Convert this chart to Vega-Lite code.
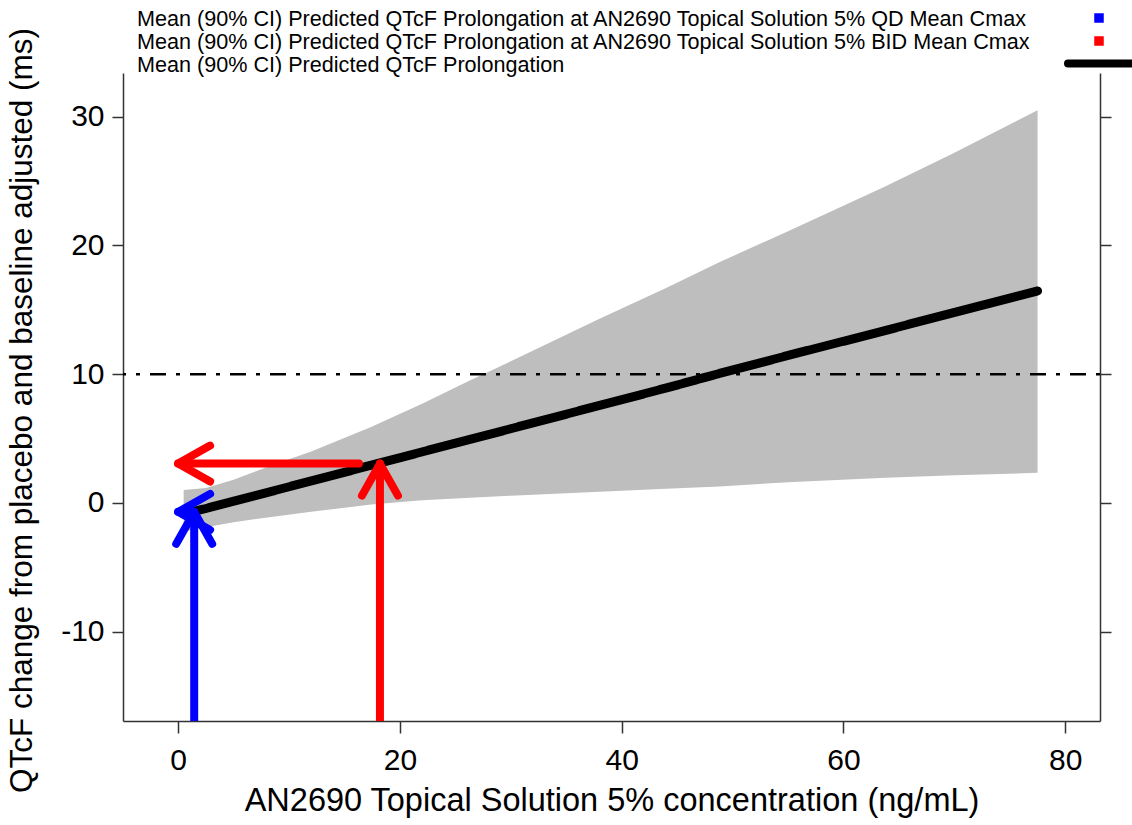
{
  "$schema": "https://vega.github.io/schema/vega-lite/v6.json",
  "width": 977,
  "height": 648,
  "autosize": {"type": "none"},
  "padding": {"left": 123, "top": 73, "right": 32, "bottom": 104},
  "background": "white",
  "config": {
    "view": {"stroke": null},
    "font": "Liberation Sans",
    "axis": {
      "grid": false,
      "domainColor": "#333333",
      "tickColor": "#333333",
      "domainWidth": 1.5,
      "tickWidth": 1.5,
      "labelColor": "#000000",
      "titleColor": "#000000",
      "labelFont": "Liberation Sans",
      "titleFont": "Liberation Sans",
      "titleFontWeight": "normal",
      "labelBound": false,
      "labelFlush": false,
      "labelOverlap": false,
      "labelExpr": "'' + datum.value"
    }
  },
  "title": {
    "text": [
      "Mean (90% CI) Predicted QTcF Prolongation at AN2690 Topical Solution 5% QD Mean Cmax",
      "Mean (90% CI) Predicted QTcF Prolongation at AN2690 Topical Solution 5% BID Mean Cmax",
      "Mean (90% CI) Predicted QTcF Prolongation"
    ],
    "anchor": "start",
    "frame": "group",
    "dx": 14,
    "offset": -64,
    "font": "Liberation Sans",
    "fontSize": 21.6,
    "fontWeight": "normal",
    "lineHeight": 23,
    "color": "#000000"
  },
  "datasets": {
    "band": [
      {"conc": 0.5, "lo": -2.25, "mean": -0.88, "hi": 1.0, "series": "Mean"},
      {"conc": 2.5, "lo": -1.9, "mean": -0.44, "hi": 1.15, "series": "Mean"},
      {"conc": 5, "lo": -1.5, "mean": 0.13, "hi": 1.8, "series": "Mean"},
      {"conc": 8.4, "lo": -1.1, "mean": 0.89, "hi": 2.9, "series": "Mean"},
      {"conc": 12, "lo": -0.7, "mean": 1.7, "hi": 4.0, "series": "Mean"},
      {"conc": 17.4, "lo": -0.12, "mean": 2.92, "hi": 5.9, "series": "Mean"},
      {"conc": 22, "lo": 0.2, "mean": 3.96, "hi": 7.7, "series": "Mean"},
      {"conc": 26.3, "lo": 0.39, "mean": 4.93, "hi": 9.5, "series": "Mean"},
      {"conc": 30, "lo": 0.56, "mean": 5.76, "hi": 11.0, "series": "Mean"},
      {"conc": 38, "lo": 0.87, "mean": 7.57, "hi": 14.3, "series": "Mean"},
      {"conc": 44, "lo": 1.1, "mean": 8.92, "hi": 16.7, "series": "Mean"},
      {"conc": 48.8, "lo": 1.27, "mean": 10.05, "hi": 18.7, "series": "Mean"},
      {"conc": 55, "lo": 1.6, "mean": 11.45, "hi": 21.1, "series": "Mean"},
      {"conc": 63.8, "lo": 1.95, "mean": 13.4, "hi": 24.6, "series": "Mean"},
      {"conc": 70, "lo": 2.15, "mean": 14.8, "hi": 27.2, "series": "Mean"},
      {"conc": 77.5, "lo": 2.33, "mean": 16.47, "hi": 30.5, "series": "Mean"}
    ],
    "arrows": [
      {"series": "QD", "x0": 1.45, "y0": -18, "x1": 1.45, "y1": -0.7, "dir": "up"},
      {"series": "QD", "x0": 1.45, "y0": -0.7, "x1": 0, "y1": -0.7, "dir": "left"},
      {"series": "BID", "x0": 18.2, "y0": -18, "x1": 18.2, "y1": 3.05, "dir": "up"},
      {"series": "BID", "x0": 16.3, "y0": 3.05, "x1": 0, "y1": 3.05, "dir": "left"}
    ]
  },
  "layer": [
    {
      "data": {"name": "band"},
      "mark": {"type": "area", "color": "#BEBEBE", "opacity": 1},
      "encoding": {
        "x": {
          "field": "conc",
          "type": "quantitative",
          "scale": {"domain": [-4.97, 83.13], "nice": false, "zero": false},
          "axis": {
            "values": [0, 20, 40, 60, 80],
            "title": "AN2690 Topical Solution 5% concentration (ng/mL)",
            "titleFontSize": 32.5,
            "labelFontSize": 30,
            "tickSize": 12,
            "labelPadding": 12,
            "titlePadding": 9
          }
        },
        "y": {
          "field": "lo",
          "type": "quantitative",
          "scale": {"domain": [-16.95, 33.4], "nice": false, "zero": false},
          "axis": {
            "values": [-10, 0, 10, 20, 30],
            "title": "QTcF change from placebo and baseline adjusted (ms)",
            "titleFontSize": 31.5,
            "labelFontSize": 30,
            "tickSize": 11,
            "labelPadding": 8,
            "titlePadding": 22,
            "titleY": 337
          }
        },
        "y2": {"field": "hi"}
      }
    },
    {
      "data": {"values": [{"ref": 10}]},
      "mark": {"type": "rule", "color": "#000000", "strokeWidth": 2.5, "strokeDash": [4, 10, 16, 10]},
      "encoding": {
        "y": {
          "field": "ref",
          "type": "quantitative",
          "axis": {"orient": "right", "values": [-10, 0, 10, 20, 30], "labels": false, "title": null, "tickSize": 11}
        }
      }
    },
    {
      "data": {"name": "band"},
      "mark": {"type": "line", "color": "#000000", "strokeWidth": 9, "strokeCap": "round", "strokeJoin": "round"},
      "encoding": {
        "x": {"field": "conc", "type": "quantitative"},
        "y": {"field": "mean", "type": "quantitative", "axis": null},
        "strokeDash": {
          "field": "series",
          "type": "nominal",
          "scale": {"domain": ["Mean"], "range": [[1, 0]]},
          "legend": {
            "orient": "none",
            "legendX": 941,
            "legendY": -47,
            "title": null,
            "labelExpr": "''",
            "labelFontSize": 1,
            "symbolType": "stroke",
            "symbolSize": 4489,
            "symbolStrokeWidth": 8,
            "symbolStrokeColor": "#000000",
            "padding": 0,
            "encode": {"symbols": {"update": {"strokeCap": {"value": "round"}}}}
          }
        }
      }
    },
    {
      "data": {"name": "arrows"},
      "mark": {"type": "rule", "strokeWidth": 8, "strokeCap": "round", "clip": true},
      "encoding": {
        "x": {"field": "x0", "type": "quantitative"},
        "y": {"field": "y0", "type": "quantitative", "axis": null},
        "x2": {"field": "x1"},
        "y2": {"field": "y1"},
        "color": {
          "field": "series",
          "type": "nominal",
          "scale": {"domain": ["QD", "BID"], "range": ["#0000FF", "#FF0000"]},
          "legend": {
            "orient": "none",
            "legendX": 971,
            "legendY": -60,
            "title": null,
            "labelExpr": "''",
            "labelFontSize": 1,
            "symbolType": "square",
            "symbolSize": 64,
            "rowPadding": 9,
            "padding": 0,
            "encode": {"symbols": {"update": {"fill": {"scale": "color", "field": "value"}, "stroke": {"value": "transparent"}, "opacity": {"value": 1}}}}
          }
        }
      }
    },
    {
      "data": {"name": "arrows"},
      "transform": [{"filter": "datum.dir === 'up'"}],
      "mark": {"type": "point", "shape": "M-0.5625,1L0,0L0.5625,1", "size": 4096, "filled": false, "strokeWidth": 8, "strokeCap": "round", "strokeJoin": "round", "opacity": 1},
      "encoding": {
        "x": {"field": "x1", "type": "quantitative"},
        "y": {"field": "y1", "type": "quantitative", "axis": null},
        "color": {"field": "series", "type": "nominal"}
      }
    },
    {
      "data": {"name": "arrows"},
      "transform": [{"filter": "datum.dir === 'left'"}],
      "mark": {"type": "point", "shape": "M-0.5625,1L0,0L0.5625,1", "angle": 270, "size": 4096, "filled": false, "strokeWidth": 8, "strokeCap": "round", "strokeJoin": "round", "opacity": 1},
      "encoding": {
        "x": {"field": "x1", "type": "quantitative"},
        "y": {"field": "y1", "type": "quantitative", "axis": null},
        "color": {"field": "series", "type": "nominal"}
      }
    }
  ],
  "resolve": {"axis": {"y": "independent"}}
}
